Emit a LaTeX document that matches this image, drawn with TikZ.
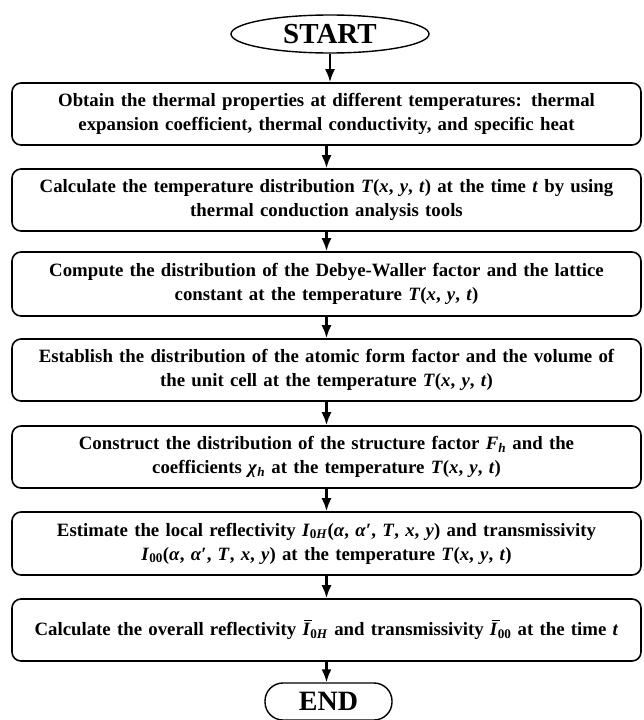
\documentclass[tikz,border=0pt]{standalone}
\usepackage{fontspec}
\setmainfont{Liberation Serif}
\usetikzlibrary{shapes.geometric,arrows.meta}
\newcommand{\mi}[1]{\textbf{\textit{#1}}}
\newcommand{\ibar}{\leavevmode\rlap{\hspace{0.1em}\rule[0.76em]{0.42em}{0.07em}}\mi{I}}
\begin{document}
\begin{tikzpicture}[x=1pt,y=-1pt,
 box/.style={draw, line width=1.6pt, rounded corners=9pt, minimum width=629pt, text width=620pt, align=center,
   font=\fontsize{18.8}{24}\selectfont\bfseries, inner sep=0pt},
 arr/.style={line width=2.2pt, -{Latex[length=13pt,width=10pt]}}]
\useasboundingbox (0,0) rectangle (643,720);
\node[ellipse, draw, line width=1.4pt, minimum width=198pt, minimum height=38pt, inner sep=0pt,
  font=\fontsize{29}{29}\selectfont\bfseries] (start) at (330,34) {START};
\node[box, minimum height=62pt] (b1) at (326.5,114) {Obtain the thermal properties at different temperatures: thermal\\ expansion coefficient, thermal conductivity, and specific heat};
\node[box, minimum height=62pt] (b2) at (326.5,200) {Calculate the temperature distribution \mi{T}(\mi{x}, \mi{y}, \mi{t}) at the time \mi{t} by using\\ thermal conduction analysis tools};
\node[box, minimum height=64pt] (b3) at (326.5,284) {Compute the distribution of the Debye-Waller factor and the lattice\\ constant at the temperature \mi{T}(\mi{x}, \mi{y}, \mi{t})};
\node[box, minimum height=62pt] (b4) at (326.5,370) {Establish the distribution of the atomic form factor and the volume of\\ the unit cell at the temperature \mi{T}(\mi{x}, \mi{y}, \mi{t})};
\node[box, minimum height=62pt] (b5) at (326.5,457) {Construct the distribution of the structure factor \mi{F}\textsubscript{\mi{h}} and the\\ coefficients \mi{χ}\textsubscript{\mi{h}} at the temperature \mi{T}(\mi{x}, \mi{y}, \mi{t})};
\node[box, minimum height=63pt] (b6) at (326.5,543.5) {Estimate the local reflectivity \mi{I}\textsubscript{0\mi{H}}(\mi{α}, \mi{α}′, \mi{T}, \mi{x}, \mi{y}) and transmissivity\\ \mi{I}\textsubscript{00}(\mi{α}, \mi{α}′, \mi{T}, \mi{x}, \mi{y}) at the temperature \mi{T}(\mi{x}, \mi{y}, \mi{t})};
\node[box, minimum height=62pt] (b7) at (326.5,630) {Calculate the overall reflectivity \ibar\textsubscript{0\mi{H}} and transmissivity \ibar\textsubscript{00} at the time \mi{t}};
\node[draw, line width=1.4pt, rounded corners=18pt, minimum width=127pt, minimum height=37pt, inner sep=0pt,
  font=\fontsize{28}{28}\selectfont\bfseries] (end) at (328.5,701.5) {END};
\draw[arr] (start.south) -- (start.south |- b1.north);
\draw[arr] (b1.south) -- (b2.north);
\draw[arr] (b2.south) -- (b3.north);
\draw[arr] (b3.south) -- (b4.north);
\draw[arr] (b4.south) -- (b5.north);
\draw[arr] (b5.south) -- (b6.north);
\draw[arr] (b6.south) -- (b7.north);
\draw[arr] (b7.south) -- (b7.south |- end.north);
\end{tikzpicture}
\end{document}
